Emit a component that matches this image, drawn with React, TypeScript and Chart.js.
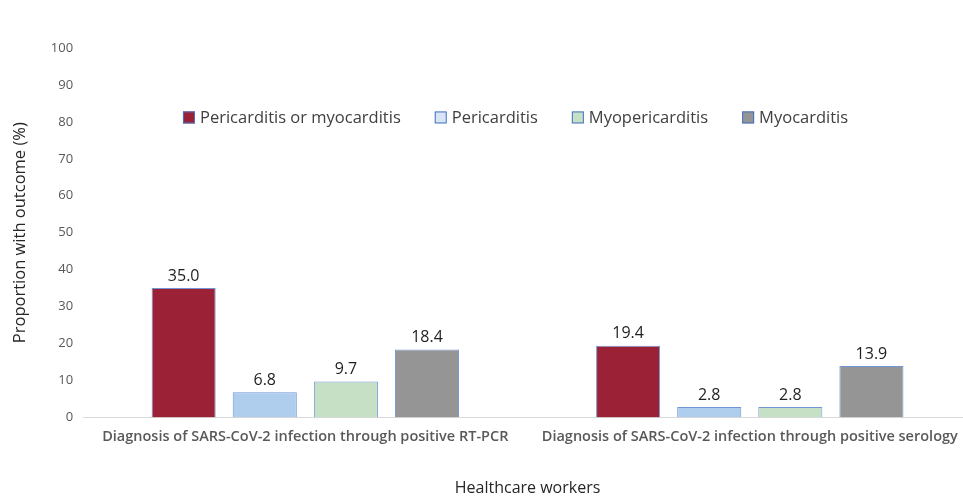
import React, { useEffect, useRef } from "react";
import { Chart, registerables } from "chart.js";

Chart.register(...registerables);

const categories = [
  "Diagnosis of SARS-CoV-2 infection through positive RT-PCR",
  "Diagnosis of SARS-CoV-2 infection through positive serology",
];
const seriesNames = ["Pericarditis or myocarditis", "Pericarditis", "Myopericarditis", "Myocarditis"];
const pericarditisOrMyocarditis = [35.0, 19.4];
const pericarditis = [6.8, 2.8];
const myopericarditis = [9.7, 2.8];
const myocarditis = [18.4, 13.9];
const seriesColors = ["#9b2236", "#afcdec", "#c6e0c5", "#959595"];
const legendColors = ["#9b2236", "#d9e4f4", "#c6e0c5", "#959595"];
const yTicks = [0, 10, 20, 30, 40, 50, 60, 70, 80, 90, 100];

const FONT = "'Open Sans', 'Noto Sans', sans-serif";

const valueLabels = {
  id: "valueLabels",
  afterDatasetsDraw(chart: any) {
    const ctx = chart.ctx;
    ctx.save();
    ctx.font = `16px ${FONT}`;
    ctx.fillStyle = "#1f1f1f";
    ctx.textAlign = "center";
    ctx.textBaseline = "bottom";
    chart.data.datasets.forEach((ds: any, i: number) => {
      const meta = chart.getDatasetMeta(i);
      meta.data.forEach((el: any, j: number) => {
        ctx.fillText(Number(ds.data[j]).toFixed(1), el.x, el.y - 4);
      });
    });
    ctx.restore();
  },
};

const inlineLegend = {
  id: "inlineLegend",
  afterDraw(chart: any) {
    const ctx = chart.ctx;
    const area = chart.chartArea;
    const box = 12;
    const gapText = 5;
    const gapItem = 34;
    ctx.save();
    ctx.font = `16.5px ${FONT}`;
    ctx.textBaseline = "middle";
    ctx.textAlign = "left";
    const items = chart.data.datasets.map((ds: any, i: number) => ({
      text: ds.label,
      color: legendColors[i],
      w: box + gapText + ctx.measureText(ds.label).width,
    }));
    const total = items.reduce((s: number, it: any) => s + it.w, 0) + gapItem * (items.length - 1);
    let x = (area.left + area.right) / 2 - 12 - total / 2;
    const y = chart.scales.y.getPixelForValue(81.2);
    items.forEach((it: any) => {
      ctx.fillStyle = it.color;
      ctx.fillRect(x, y - box / 2, box, box);
      ctx.strokeStyle = "#4472c4";
      ctx.lineWidth = 1;
      ctx.strokeRect(x + 0.5, y - box / 2 + 0.5, box - 1, box - 1);
      ctx.fillStyle = "#404040";
      ctx.fillText(it.text, x + box + gapText, y + 1);
      x += it.w + gapItem;
    });
    ctx.restore();
  },
};

export default function App() {
  const ref = useRef<HTMLCanvasElement | null>(null);
  useEffect(() => {
    if (!ref.current) return;
    const values = [pericarditisOrMyocarditis, pericarditis, myopericarditis, myocarditis];
    const chart = new Chart(ref.current, {
      type: "bar",
      data: {
        labels: categories,
        datasets: seriesNames.map((name, i) => ({
          label: name,
          data: values[i],
          backgroundColor: seriesColors[i],
          borderColor: "#7096d6",
          borderWidth: 1,
          barPercentage: 0.79,
          categoryPercentage: 0.73,
        })),
      },
      options: {
        animation: false,
        responsive: true,
        maintainAspectRatio: false,
        layout: { padding: { top: 48, right: 8, left: 10, bottom: 0 } },
        plugins: {
          tooltip: { enabled: false },
          legend: { display: false },
        },
        scales: {
          x: {
            grid: { display: false, drawTicks: false },
            border: { color: "#d9d9d9" },
            ticks: {
              color: "#595959",
              padding: 11,
              autoSkip: false,
              maxRotation: 0,
              font: { family: FONT, size: 14.5, weight: 600 },
            },
            title: {
              display: true,
              text: "Healthcare workers",
              color: "#262626",
              padding: { top: 22, bottom: 0 },
              font: { family: FONT, size: 16 },
            },
          },
          y: {
            min: 0,
            max: 100,
            afterBuildTicks: (scale: any) => {
              scale.ticks = yTicks.map((v) => ({ value: v }));
            },
            grid: { display: false, drawTicks: false },
            border: { display: false },
            ticks: {
              color: "#595959",
              padding: 10,
              font: { family: FONT, size: 13 },
            },
            title: {
              display: true,
              text: "Proportion with outcome (%)",
              color: "#262626",
              padding: { top: 0, bottom: 11 },
              font: { family: FONT, size: 16.5 },
            },
          },
        },
      },
      plugins: [valueLabels, inlineLegend],
    });
    return () => chart.destroy();
  }, []);
  return (
    <div style={{ position: "fixed", left: 0, top: 0, width: 963, height: 498, overflow: "hidden", background: "#fff" }}>
      <div style={{ position: "relative", width: 980, height: 498 }}>
        <canvas ref={ref} />
      </div>
    </div>
  );
}
